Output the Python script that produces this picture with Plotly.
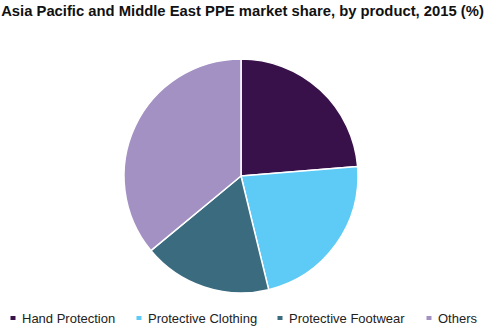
import plotly.graph_objects as go

categories = ["Hand Protection", "Protective Clothing", "Protective Footwear", "Others"]
shares = [23.7, 22.5, 17.8, 36.0]
colors = ["#38104A", "#5DCBF6", "#3B6B7F", "#A391C4"]
title_text = "Asia Pacific and Middle East PPE market share, by product, 2015 (%)"

W, H = 485, 330
cx, cy, r = 241, 176, 117

# legend layout (pixel positions of each legend entry's text start)
legend_text_x = [21, 147, 288, 437]
legend_y = 318

fig = go.Figure(go.Pie(
    labels=categories,
    values=shares,
    marker=dict(colors=colors, line=dict(color="white", width=1.5)),
    sort=False,
    direction="clockwise",
    rotation=0,
    textinfo="none",
    hoverinfo="label+percent",
    showlegend=False,
    domain=dict(x=[(cx - r) / W, (cx + r) / W], y=[(H - cy - r) / H, (H - cy + r) / H]),
))

shapes = []
annotations = []
for name, col, tx in zip(categories, colors, legend_text_x):
    mx = tx - 8
    shapes.append(dict(type="rect", xref="paper", yref="paper",
                       x0=(mx - 2.5) / W, x1=(mx + 2.5) / W,
                       y0=(H - legend_y - 2) / H, y1=(H - legend_y + 2) / H,
                       fillcolor=col, line=dict(width=0)))
    annotations.append(dict(text=name, xref="paper", yref="paper",
                            x=tx / W, y=(H - legend_y) / H, xanchor="left", yanchor="middle",
                            showarrow=False, xshift=-1,
                            font=dict(size=13, color="#222222",
                                      family="Liberation Sans, Arial, sans-serif")))

fig.update_layout(
    width=W, height=H,
    margin=dict(l=0, r=0, t=0, b=0),
    paper_bgcolor="white",
    plot_bgcolor="white",
    font=dict(family="Liberation Sans, Arial, sans-serif", color="#333333"),
    title=dict(text="<b>" + title_text + "</b>", x=0.5, xanchor="center", y=1 - 11 / H, yanchor="middle",
               font=dict(size=14.8, color="#111111", family="Liberation Sans, Arial, sans-serif")),
    shapes=shapes,
    annotations=annotations,
)

fig.write_html("out.html")
